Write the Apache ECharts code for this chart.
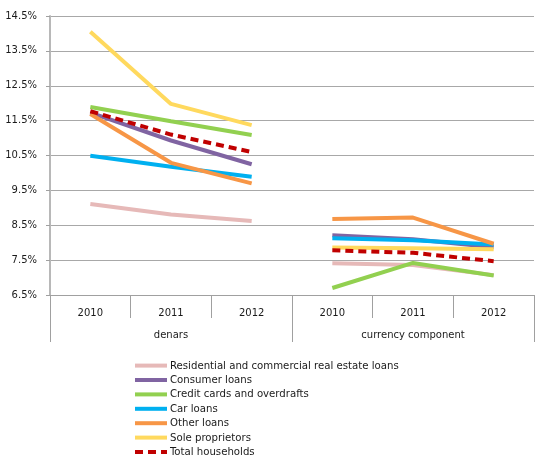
<!DOCTYPE html>
<html>
<head>
<meta charset="utf-8">
<script src="https://cdn.jsdelivr.net/npm/echarts@6/dist/echarts.min.js"></script>
<style>
html,body{margin:0;padding:0;background:#fff;}
#chart{width:537px;height:458px;}
</style>
</head>
<body>
<div id="chart"></div>
<script>
var categories = ['2010', '2011', '2012', '2010', '2011', '2012'];
var groups = ['denars', 'currency component'];
var groupSize = 3;
var yTicks = ['6.5%', '7.5%', '8.5%', '9.5%', '10.5%', '11.5%', '12.5%', '13.5%', '14.5%'];

var seriesNames = [
  'Residential and commercial real estate loans',
  'Consumer loans',
  'Credit cards and overdrafts',
  'Car loans',
  'Other loans',
  'Sole proprietors',
  'Total households'
];
var residential = [9.11, 8.81, 8.62, 7.41, 7.36, 7.07];
var consumer    = [11.73, 10.93, 10.25, 8.21, 8.10, 7.87];
var creditCards = [11.89, 11.48, 11.09, 6.70, 7.42, 7.06];
var carLoans    = [10.49, 10.18, 9.89, 8.13, 8.07, 7.95];
var otherLoans  = [11.69, 10.29, 9.70, 8.68, 8.72, 7.97];
var soleProp    = [14.05, 11.98, 11.37, 7.86, 7.84, 7.81];
var totalHH     = [11.77, 11.10, 10.60, 7.78, 7.71, 7.47];

var seriesValues = [residential, consumer, creditCards, carLoans, otherLoans, soleProp, totalHH];
var colors = ['#E6B9B8', '#8064A2', '#92D050', '#00B0F0', '#F79646', '#FFD95E', '#C00000'];
var dashed = [false, false, false, false, false, false, true];

var axisFont = "'DejaVu Sans', sans-serif";
var legendFont = "'DejaVu Sans Condensed', 'DejaVu Sans', sans-serif";
var textColor = '#1a1a1a';
var axisGray = '#a0a0a0';

var series = [];
seriesValues.forEach(function (vals, si) {
  groups.forEach(function (g, gi) {
    var data = vals.map(function (v, i) {
      return Math.floor(i / groupSize) === gi ? v : '-';
    });
    series.push({
      name: seriesNames[si],
      type: 'line',
      xAxisIndex: 0,
      symbol: 'none',
      connectNulls: false,
      data: data,
      z: 2 + si,
      lineStyle: {
        color: colors[si],
        width: 4,
        type: dashed[si] ? [8, 5] : 'solid',
        cap: 'butt'
      },
      itemStyle: { color: colors[si] }
    });
  });
});

var chart = echarts.init(document.getElementById('chart'), null, { renderer: 'canvas' });
chart.setOption({
  animation: false,
  backgroundColor: '#ffffff',
  textStyle: { fontFamily: axisFont },
  grid: { left: 50, right: 3, top: 16, bottom: 163 },
  xAxis: [
    {
      type: 'category',
      data: categories,
      boundaryGap: true,
      position: 'bottom',
      axisLine: { show: true, lineStyle: { color: axisGray, width: 1 } },
      axisTick: { show: true, interval: 0, length: 23, lineStyle: { color: axisGray } },
      axisLabel: { interval: 0, margin: 13, fontSize: 10, color: textColor, fontFamily: axisFont },
      splitLine: { show: false }
    },
    {
      type: 'category',
      data: groups,
      boundaryGap: true,
      position: 'bottom',
      axisLine: { show: false },
      axisTick: { show: true, interval: 0, length: 47, lineStyle: { color: axisGray } },
      axisLabel: { interval: 0, margin: 35, fontSize: 10, color: textColor, fontFamily: axisFont },
      splitLine: { show: false }
    }
  ],
  yAxis: {
    type: 'value',
    min: 6.5,
    max: 14.5,
    interval: 1,
    axisLine: { show: true, lineStyle: { color: '#b8b8b8', width: 2 } },
    axisTick: { show: true, length: 4, lineStyle: { color: axisGray } },
    axisLabel: {
      margin: 13,
      fontSize: 10,
      color: textColor,
      fontFamily: axisFont,
      formatter: function (v) {
        var idx = Math.round(v - 6.5);
        return yTicks[idx] !== undefined ? yTicks[idx] : '';
      }
    },
    splitLine: { show: true, lineStyle: { color: '#a8a8a8', width: 1 } }
  },
  legend: {
    orient: 'vertical',
    left: 133,
    top: 360,
    padding: 0,
    itemWidth: 32,
    itemHeight: 14,
    itemGap: 3.2,
    data: seriesNames,
    itemStyle: { opacity: 0 },
    lineStyle: { width: 4 },
    textStyle: { fontSize: 11.3, color: textColor, fontFamily: legendFont, padding: [0, 0, 0, -2] }
  },
  series: series
});
</script>
</body>
</html>
